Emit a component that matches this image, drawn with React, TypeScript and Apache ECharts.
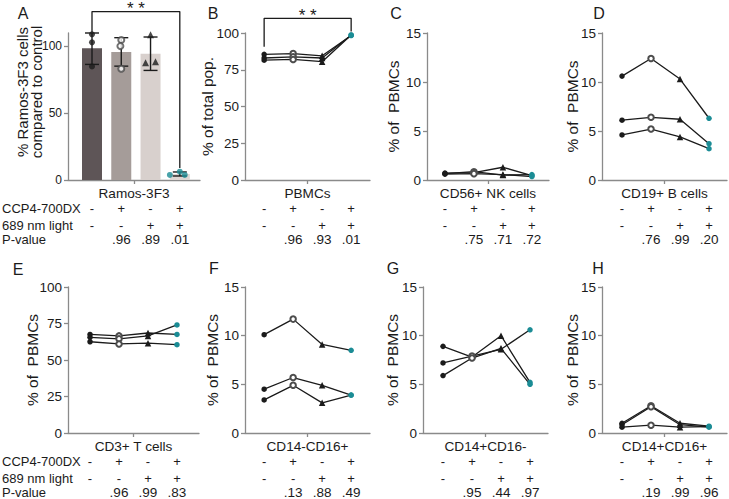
import React, { useEffect, useRef } from 'react';
import * as echarts from 'echarts';

const FONT = '"Liberation Sans", Arial, Helvetica, sans-serif';
const INK = '#1b1b1b';
const AXIS = '#8a8a8a';
const TEAL = '#1b8c95';

// Treatment table shown under every panel
const ccp4Row = ['-', '+', '-', '+'];
const lightRow = ['-', '-', '+', '+'];
const rowLabels = ['CCP4-700DX', '689 nm light', 'P-value'];

// Marker per treatment: control, CCP4-700DX, light, CCP4-700DX + light
const treatSymbols = ['circle', 'emptyCircle', 'triangle', 'circle'];
const treatColors = [INK, '#4d4d4d', INK, TEAL];
const treatSizes = [5.5, 5.5, 6.5, 5.5];

// Panel A: Ramos-3F3 cells relative to control
const ramosMeans = [98.5, 95.7, 94.5, 4.5];
const ramosErrLow = [86.5, 85.2, 82, 3];
const ramosErrHigh = [110, 106.5, 107, 6];
const ramosPoints = [
  [109, 103, 85],
  [104.7, 100.2, 83.2],
  [108.7, 87.7, 88.5],
  [3.8, 6.2, 3.8],
];
const ramosJitter = [
  [0, 0, 0],
  [0, -0.03, 0],
  [0, -0.17, 0.17],
  [-0.34, 0, 0.17],
];
const ramosBarColors = ['#5e5557', '#a59c99', '#d8d0cd', '#ddd6d3'];
const ramosP = ['', '.96', '.89', '.01'];
const bracketA = [110.5, 126, 9]; // left foot, top, right foot

// Panels B-H: one line per donor across the four treatments
const pbmcDonors = [
  [85.5, 86.0, 84.5, 98.3],
  [83.0, 83.8, 83.0, 98.5],
  [81.5, 82.0, 80.5, 98.7],
];
const pbmcP = ['', '.96', '.93', '.01'];
const bracketB = [90.7, 110, 101];

const nkDonors = [
  [0.7, 0.75, 1.3, 0.45],
  [0.65, 0.85, 0.5, 0.55],
  [0.6, 0.65, 0.55, 0.35],
];
const nkP = ['', '.75', '.71', '.72'];

const bDonors = [
  [10.6, 12.4, 10.3, 6.3],
  [6.1, 6.4, 6.2, 3.7],
  [4.6, 5.2, 4.4, 3.2],
];
const bP = ['', '.76', '.99', '.20'];

const tDonors = [
  [67.5, 66.5, 68.5, 67.5],
  [65.5, 64.5, 66.5, 74.0],
  [62.5, 61.0, 61.5, 60.5],
];
const tP = ['', '.96', '.99', '.83'];

const cd14negDonors = [
  [10.1, 11.7, 9.1, 8.5],
  [4.5, 5.7, 4.9, 3.9],
  [3.4, 4.9, 3.1, 3.9],
];
const cd14negP = ['', '.13', '.88', '.49'];

const cd16negDonors = [
  [8.9, 7.8, 10.0, 5.2],
  [7.2, 7.9, 8.6, 10.6],
  [5.9, 7.7, 8.7, 5.0],
];
const cd16negP = ['', '.95', '.44', '.97'];

const doublePosDonors = [
  [1.0, 2.8, 1.0, 0.7],
  [0.85, 2.7, 0.85, 0.6],
  [0.6, 0.8, 0.6, 0.65],
];
const doublePosP = ['', '.19', '.99', '.96'];

const ticksRamos = [0, 50, 100];
const ticksPct = [0, 25, 50, 75, 100];
const ticksSmall = [0, 5, 10, 15];

type Panel = {
  letter: string;
  category: string;
  yTitle: string;
  ticks: number[];
  yMax: number;
  donors?: number[][];
  pvals: string[];
};

const panels: Panel[] = [
  { letter: 'A', category: 'Ramos-3F3', yTitle: '% Ramos-3F3 cells\ncompared to control', ticks: ticksRamos, yMax: 110, pvals: ramosP },
  { letter: 'B', category: 'PBMCs', yTitle: '% of total pop.', ticks: ticksPct, yMax: 100, donors: pbmcDonors, pvals: pbmcP },
  { letter: 'C', category: 'CD56+ NK cells', yTitle: '% of  PBMCs', ticks: ticksSmall, yMax: 15, donors: nkDonors, pvals: nkP },
  { letter: 'D', category: 'CD19+ B cells', yTitle: '% of  PBMCs', ticks: ticksSmall, yMax: 15, donors: bDonors, pvals: bP },
  { letter: 'E', category: 'CD3+ T cells', yTitle: '% of  PBMCs', ticks: ticksPct, yMax: 100, donors: tDonors, pvals: tP },
  { letter: 'F', category: 'CD14-CD16+', yTitle: '% of  PBMCs', ticks: ticksSmall, yMax: 15, donors: cd14negDonors, pvals: cd14negP },
  { letter: 'G', category: 'CD14+CD16-', yTitle: '% of  PBMCs', ticks: ticksSmall, yMax: 15, donors: cd16negDonors, pvals: cd16negP },
  { letter: 'H', category: 'CD14+CD16+', yTitle: '% of  PBMCs', ticks: ticksSmall, yMax: 15, donors: doublePosDonors, pvals: doublePosP },
];

// Plot frames (pixels) and the x range that spaces the four treatments
const layouts = [
  { left: 68, top: 33, width: 132, height: 147, xMin: -0.82, xMax: 3.69, nameGap: 0 },
  { left: 245, top: 33, width: 125, height: 147, xMin: -0.66, xMax: 3.65, nameGap: 30 },
  { left: 427, top: 33, width: 122, height: 147, xMin: -0.62, xMax: 3.59, nameGap: 26 },
  { left: 602, top: 33, width: 125, height: 147, xMin: -0.69, xMax: 3.62, nameGap: 22 },
  { left: 68, top: 287, width: 131, height: 146, xMin: -0.76, xMax: 3.76, nameGap: 28 },
  { left: 245, top: 287, width: 125, height: 146, xMin: -0.66, xMax: 3.65, nameGap: 25 },
  { left: 423, top: 287, width: 125, height: 146, xMin: -0.69, xMax: 3.62, nameGap: 23 },
  { left: 602, top: 287, width: 125, height: 146, xMin: -0.69, xMax: 3.62, nameGap: 22 },
];
const letterPos = [
  [23, 13], [213, 13], [396, 13], [599, 13],
  [18, 269], [214, 268], [393, 268], [598, 268],
];
const ROW_OFFSETS = [28, 45, 59];

function buildOption(): any {
  const grid = layouts.map((l) => ({
    left: l.left, top: l.top, width: l.width, height: l.height,
    containLabel: false, outerBoundsMode: 'none',
  }));

  const xAxis = panels.map((p, k) => {
    const l = layouts[k];
    return {
      type: 'value', gridIndex: k, min: l.xMin, max: l.xMax,
      name: p.category, nameLocation: 'middle', nameGap: 6, nameMoveOverlap: false,
      nameTextStyle: { fontFamily: FONT, fontSize: 13.6, color: INK },
      axisLine: { show: true, onZero: false, lineStyle: { color: AXIS, width: 1.3 } },
      axisTick: { show: true, length: 4, customValues: [(l.xMin + l.xMax) / 2], lineStyle: { color: AXIS, width: 1.3 } },
      axisLabel: { show: false },
      splitLine: { show: false },
    };
  });

  const yAxis = panels.map((p, k) => ({
    type: 'value', gridIndex: k, min: 0, max: p.yMax,
    name: k === 0 ? '' : p.yTitle, nameLocation: 'middle', nameGap: layouts[k].nameGap,
    nameMoveOverlap: false,
    nameTextStyle: { fontFamily: FONT, fontSize: 15.5, color: INK },
    axisLine: { show: true, onZero: false, lineStyle: { color: AXIS, width: 1.3 } },
    axisTick: { show: true, length: 4, customValues: p.ticks, lineStyle: { color: AXIS, width: 1.3 } },
    axisLabel: { customValues: p.ticks, margin: 6, fontFamily: FONT, fontSize: k === 0 ? 12 : 13.5, color: INK },
    splitLine: { show: false },
  }));

  const series: any[] = [];

  // Panel A: bars, SD whiskers and replicate points
  series.push({
    type: 'bar', xAxisIndex: 0, yAxisIndex: 0, barWidth: 20, z: 1,
    data: ramosMeans.map((v, i) => ({ value: [i, v], itemStyle: { color: ramosBarColors[i] } })),
  });
  series.push({
    type: 'custom', xAxisIndex: 0, yAxisIndex: 0, z: 3,
    encode: { x: 0, y: [1, 2] },
    data: ramosMeans.map((_, i) => [i, ramosErrLow[i], ramosErrHigh[i]]),
    renderItem: (_params: any, api: any) => {
      const x = api.value(0);
      const lo = api.coord([x, api.value(1)]);
      const hi = api.coord([x, api.value(2)]);
      const hw = 7;
      const style = { stroke: INK, lineWidth: 1.4 };
      return {
        type: 'group',
        children: [
          { type: 'line', shape: { x1: hi[0], y1: hi[1], x2: lo[0], y2: lo[1] }, style },
          { type: 'line', shape: { x1: hi[0] - hw, y1: hi[1], x2: hi[0] + hw, y2: hi[1] }, style },
          { type: 'line', shape: { x1: lo[0] - hw, y1: lo[1], x2: lo[0] + hw, y2: lo[1] }, style },
        ],
      };
    },
  });
  const ramosScatter: any[] = [];
  ramosPoints.forEach((pts, i) => {
    pts.forEach((v, j) => {
      ramosScatter.push({
        value: [i + ramosJitter[i][j], v],
        symbol: treatSymbols[i],
        symbolSize: treatSizes[i] + 0.5,
        itemStyle: { color: treatColors[i], borderWidth: treatSymbols[i] === 'emptyCircle' ? 1.2 : 0 },
      });
    });
  });
  series.push({ type: 'scatter', xAxisIndex: 0, yAxisIndex: 0, z: 4, data: ramosScatter });

  // Significance brackets (A and B)
  const bracketStyle = { color: INK, width: 1.3 };
  series.push({
    type: 'line', xAxisIndex: 0, yAxisIndex: 0, clip: false, symbol: 'none', z: 5,
    lineStyle: bracketStyle,
    data: [[0, bracketA[0]], [0, bracketA[1]], [3, bracketA[1]], [3, bracketA[2]]],
  });
  series.push({
    type: 'line', xAxisIndex: 1, yAxisIndex: 1, clip: false, symbol: 'none', z: 5,
    lineStyle: bracketStyle,
    data: [[0, bracketB[0]], [0, bracketB[1]], [3, bracketB[1]], [3, bracketB[2]]],
  });

  // Panels B-H: donor lines
  panels.forEach((p, k) => {
    if (!p.donors) return;
    p.donors.forEach((donor) => {
      series.push({
        type: 'line', xAxisIndex: k, yAxisIndex: k, z: 3,
        lineStyle: { color: INK, width: 1.3 },
        data: donor.map((v, i) => ({
          value: [i, v],
          symbol: treatSymbols[i],
          symbolSize: treatSizes[i],
          itemStyle: {
            color: treatColors[i],
            borderColor: treatColors[i],
            borderWidth: treatSymbols[i] === 'emptyCircle' ? 1.1 : 0,
          },
        })),
      });
    });
  });

  return {
    animation: false,
    backgroundColor: '#ffffff',
    textStyle: { fontFamily: FONT },
    grid, xAxis, yAxis, series,
  };
}

function buildGraphics(chart: any): any[] {
  const g: any[] = [];
  const txt = (x: number, y: number, text: string, extra: any = {}) => ({
    type: 'text', x, y, silent: true,
    style: { text, fontFamily: FONT, fontSize: 13, fill: INK, align: 'center', verticalAlign: 'middle', ...extra },
  });

  panels.forEach((p, k) => {
    const px = (v: number[]) => chart.convertToPixel({ gridIndex: k }, v) as number[];
    const baseY = px([0, 0])[1];
    for (let i = 0; i < 4; i++) {
      const x = px([i, 0])[0];
      g.push(txt(x, baseY + ROW_OFFSETS[0], ccp4Row[i]));
      g.push(txt(x, baseY + ROW_OFFSETS[1], lightRow[i]));
      if (p.pvals[i]) g.push(txt(x, baseY + ROW_OFFSETS[2], p.pvals[i], { fontSize: 13.5 }));
    }
    if (k === 0 || k === 4) {
      rowLabels.forEach((label, r) => {
        g.push(txt(2, baseY + ROW_OFFSETS[r], label, { align: 'left' }));
      });
    }
    g.push(txt(letterPos[k][0], letterPos[k][1], p.letter, { fontSize: 16 }));
  });

  // Two-line y title of panel A
  g.push({
    type: 'text', x: 29.5, y: 92, rotation: Math.PI / 2, silent: true,
    style: {
      text: panels[0].yTitle, fontFamily: FONT, fontSize: 15, lineHeight: 13.5,
      fill: INK, align: 'center', verticalAlign: 'middle',
    },
  });

  // Significance stars above the brackets
  const stars = (k: number, top: number) => {
    const a = chart.convertToPixel({ gridIndex: k }, [0, top]) as number[];
    const b = chart.convertToPixel({ gridIndex: k }, [3, top]) as number[];
    g.push(txt((a[0] + b[0]) / 2, a[1] - 3, '* *', { fontSize: 17 }));
  };
  stars(0, bracketA[1]);
  stars(1, bracketB[1]);

  return g;
}

export default function App() {
  const ref = useRef<HTMLDivElement>(null);
  useEffect(() => {
    if (!ref.current) return;
    const chart = echarts.init(ref.current, undefined, { renderer: 'svg' });
    chart.setOption(buildOption());
    chart.setOption({ graphic: buildGraphics(chart) });
    return () => chart.dispose();
  }, []);
  return (
    <div
      ref={ref}
      style={{ position: 'fixed', left: 0, top: 0, width: 729, height: 499, background: '#fff' }}
    />
  );
}
